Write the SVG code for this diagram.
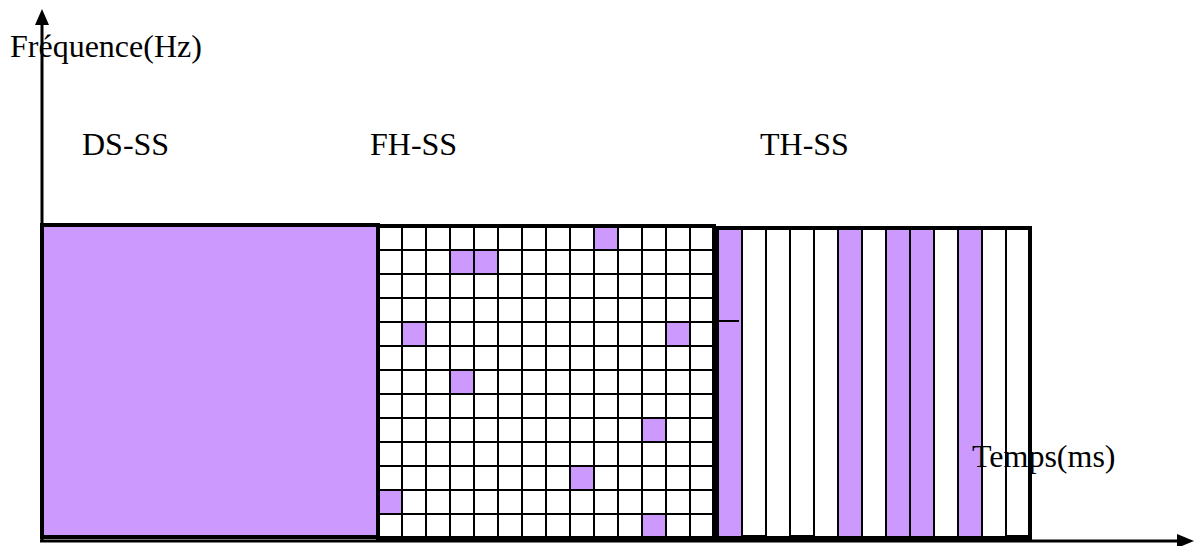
<svg xmlns="http://www.w3.org/2000/svg" width="1195" height="546" viewBox="0 0 1195 546">
<style>
.lbl{font-family:"Liberation Serif","Times New Roman",serif;font-size:32px;fill:#000}
.p{fill:#CC99FF}
.w{fill:#FFFFFF}
.grid{stroke:#000;stroke-width:2;fill:none}
.border{stroke:#000;stroke-width:4;fill:none}
.stripe{stroke:#000;stroke-width:2}
.axis{stroke:#000;stroke-width:3;fill:none}
</style>
<rect width="1195" height="546" fill="#FFFFFF"/>
<g id="labels">
<text class="lbl" x="10" y="57">Fréquence(Hz)</text>
<text class="lbl" x="82" y="155">DS-SS</text>
<text class="lbl" x="370" y="155">FH-SS</text>
<text class="lbl" x="760" y="155">TH-SS</text>
</g>
<g id="ds-ss">
<rect x="42" y="225" width="336" height="312" class="p"/>
<rect x="42" y="225" width="336" height="312" class="border"/>
</g>
<g id="fh-ss">
<rect x="378" y="226" width="336" height="312" class="w"/>
<g class="p">
<rect x="594" y="226" width="24" height="24"/>
<rect x="450" y="250" width="48" height="24"/>
<rect x="402" y="322" width="24" height="24"/>
<rect x="666" y="322" width="24" height="24"/>
<rect x="450" y="370" width="24" height="24"/>
<rect x="642" y="418" width="24" height="24"/>
<rect x="570" y="466" width="24" height="24"/>
<rect x="378" y="490" width="24" height="24"/>
<rect x="642" y="514" width="24" height="24"/>
</g>
<path class="grid" d="M402 226V538M426 226V538M450 226V538M474 226V538M498 226V538M522 226V538M546 226V538M570 226V538M594 226V538M618 226V538M642 226V538M666 226V538M690 226V538M378 250H714M378 274H714M378 298H714M378 322H714M378 346H714M378 370H714M378 394H714M378 418H714M378 442H714M378 466H714M378 490H714M378 514H714"/>
<rect x="378" y="226" width="336" height="312" class="border"/>
</g>
<g id="th-ss">
<rect x="718" y="228" width="24" height="310" class="stripe p"/>
<rect x="742" y="228" width="24" height="308" class="stripe w"/>
<rect x="766" y="228" width="24" height="310" class="stripe w"/>
<rect x="790" y="228" width="24" height="308" class="stripe w"/>
<rect x="814" y="228" width="24" height="310" class="stripe w"/>
<rect x="838" y="228" width="24" height="310" class="stripe p"/>
<rect x="862" y="228" width="24" height="310" class="stripe w"/>
<rect x="886" y="228" width="24" height="310" class="stripe p"/>
<rect x="910" y="228" width="24" height="310" class="stripe p"/>
<rect x="934" y="228" width="24" height="310" class="stripe w"/>
<rect x="958" y="228" width="24" height="310" class="stripe p"/>
<rect x="982" y="228" width="24" height="310" class="stripe w"/>
<rect x="1006" y="228" width="24" height="308" class="stripe w"/>
<path d="M719 321H739" stroke="#000" stroke-width="2"/>
<rect x="717" y="228" width="313" height="310" class="border"/>
</g>
<g id="connectors">
<line class="axis" x1="42" y1="541" x2="42" y2="22"/>
<polygon points="42,9 35,25 49,25" fill="#000"/>
<line class="axis" x1="40" y1="541" x2="1180" y2="541"/>
<polygon points="1194,541 1177,534 1177,548" fill="#000"/>
</g>
<g id="time-label">
<text class="lbl" x="972" y="467">Temps(ms)</text>
</g>
</svg>
